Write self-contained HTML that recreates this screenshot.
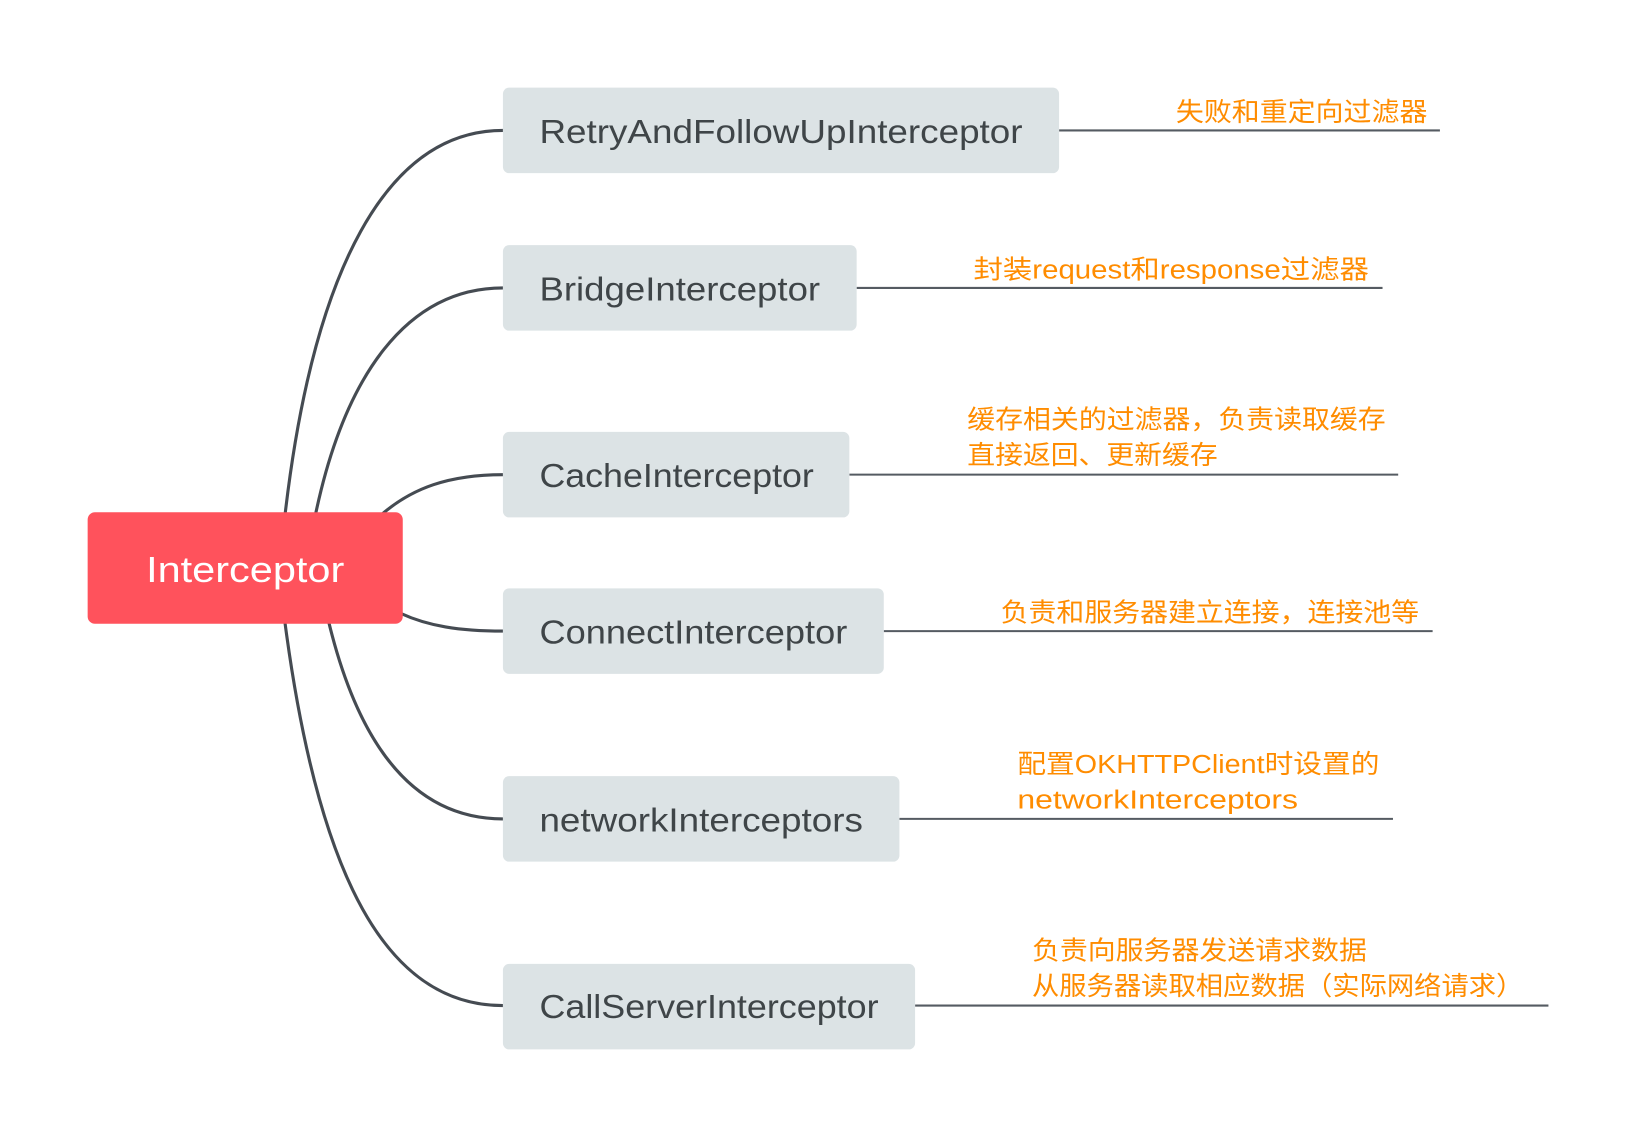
<!DOCTYPE html>
<html><head><meta charset="utf-8"><style>
html,body{margin:0;padding:0;background:#fff;}
svg{display:block;}
.n{font-family:"Liberation Sans",sans-serif;font-size:32px;fill:#3F4548;}
.l{font-family:"Liberation Sans","Noto Sans CJK SC",sans-serif;font-size:25px;fill:#FF8C00;}
</style></head><body>
<svg width="1634" height="1136" viewBox="0 0 1566 1089" preserveAspectRatio="none" xmlns="http://www.w3.org/2000/svg">
<g fill="none" stroke="#454B52" stroke-width="3">
<path d="M273,495 C300,260 370,125 482,125"/>
<path d="M302,495 C330,360 390,276 482,276"/>
<path d="M366,493 C395,468 430,455 482,455"/>
<path d="M384,588 C410,600 440,605 482,605"/>
<path d="M315,596 C345,720 400,785 482,785"/>
<path d="M273,596 C305,840 370,964 482,964"/>
</g>
<g stroke="#555B62" stroke-width="2">
<line x1="1015" y1="125" x2="1380" y2="125"/>
<line x1="821" y1="276" x2="1325" y2="276"/>
<line x1="814" y1="455" x2="1340" y2="455"/>
<line x1="847" y1="605" x2="1373" y2="605"/>
<line x1="862" y1="785" x2="1335" y2="785"/>
<line x1="877" y1="964" x2="1484" y2="964"/>
</g>
<rect x="84" y="491" width="302" height="107" rx="7" fill="#FF525C"/>
<text x="140" y="558" textLength="190" lengthAdjust="spacingAndGlyphs" font-family="Liberation Sans,sans-serif" font-size="35" fill="#fff">Interceptor</text>
<g fill="#DCE3E5">
<rect x="482" y="84" width="533" height="82" rx="6"/>
<rect x="482" y="235" width="339" height="82" rx="6"/>
<rect x="482" y="414" width="332" height="82" rx="6"/>
<rect x="482" y="564" width="365" height="82" rx="6"/>
<rect x="482" y="744" width="380" height="82" rx="6"/>
<rect x="482" y="924" width="395" height="82" rx="6"/>
</g>
<text class="n" x="517" y="137" textLength="463" lengthAdjust="spacingAndGlyphs">RetryAndFollowUpInterceptor</text>
<text class="n" x="517" y="288" textLength="269" lengthAdjust="spacingAndGlyphs">BridgeInterceptor</text>
<text class="n" x="517" y="467" textLength="263" lengthAdjust="spacingAndGlyphs">CacheInterceptor</text>
<text class="n" x="517" y="617" textLength="295" lengthAdjust="spacingAndGlyphs">ConnectInterceptor</text>
<text class="n" x="517" y="797" textLength="310" lengthAdjust="spacingAndGlyphs">networkInterceptors</text>
<text class="n" x="517" y="976" textLength="325" lengthAdjust="spacingAndGlyphs">CallServerInterceptor</text>
<text class="l" x="1127" y="116" textLength="241" lengthAdjust="spacingAndGlyphs">失败和重定向过滤器</text>
<text class="l" x="933" y="267" textLength="379" lengthAdjust="spacingAndGlyphs">封装request和response过滤器</text>
<text class="l" x="927" y="411" textLength="401" lengthAdjust="spacingAndGlyphs">缓存相关的过滤器，负责读取缓存</text>
<text class="l" x="927" y="445" textLength="240" lengthAdjust="spacingAndGlyphs">直接返回、更新缓存</text>
<text class="l" x="959" y="596" textLength="401" lengthAdjust="spacingAndGlyphs">负责和服务器建立连接，连接池等</text>
<text class="l" x="975" y="741" textLength="347" lengthAdjust="spacingAndGlyphs">配置OKHTTPClient时设置的</text>
<text class="l" x="975" y="775" textLength="269" lengthAdjust="spacingAndGlyphs">networkInterceptors</text>
<text class="l" x="989" y="920" textLength="321" lengthAdjust="spacingAndGlyphs">负责向服务器发送请求数据</text>
<text class="l" x="989" y="954" textLength="471" lengthAdjust="spacingAndGlyphs">从服务器读取相应数据（实际网络请求）</text>
</svg>
</body></html>
